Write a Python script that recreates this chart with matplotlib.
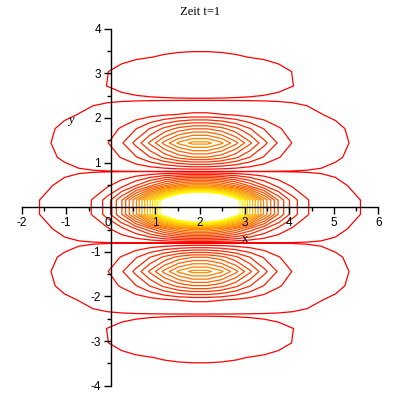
import numpy as np
import matplotlib
matplotlib.use("Agg")
import matplotlib.pyplot as plt

# --- values ---
title = "Zeit t=1"
x_range = [-2, 6]
y_range = [-4, 4]
grid_points = 26            # coarse sampling grid
x_center = 2.0              # centre of packet in x
x_width = 1.76              # Gaussian width parameter in x (near y=0)
x_width_growth = 0.0040     # widening of the packet for large |y|
y_nodes = [0.8, 2.4]        # zero lines in y (both signs)
y_damp2 = 0.8334            # Gaussian damping in y
y_damp4 = 0.02346           # quartic damping in y
peak = 31.8                 # peak value at (2, 0)
levels = [0.0216] + list(range(1, 19))
x_ticks_major = [-2, -1, 0, 1, 2, 3, 4, 5, 6]
y_ticks_major = [-4, -3, -2, -1, 1, 2, 3, 4]
x_ticks_minor = [-1.5, -0.5, 0.5, 1.5, 2.5, 3.5, 4.5, 5.5]
y_ticks_minor = [-3.5, -2.5, -1.5, -0.5, 0.5, 1.5, 2.5, 3.5]

xs = np.linspace(x_range[0], x_range[1], grid_points)
ys = np.linspace(y_range[0], y_range[1], grid_points)
X, Y = np.meshgrid(xs, ys)
P = ((1 - Y**2 / y_nodes[0] ** 2) * (1 - Y**2 / y_nodes[1] ** 2)) ** 2
W = x_width * (1 + x_width_growth * Y**4)
Z = peak * np.exp(-(X - x_center) ** 2 / W) * P * np.exp(-y_damp2 * Y**2 - y_damp4 * Y**4)

n = len(levels)
colors = [(1.0, i / (n - 1), 0.0) for i in range(n)]

fig = plt.figure(figsize=(4, 4), dpi=100)
ax = fig.add_axes([0.054, 0.0357, 0.892, 0.8925])
ax.contour(X, Y, Z, levels=levels, colors=colors, linewidths=0.9, zorder=1)

ax.set_xticks(x_ticks_major)
ax.set_xticklabels([str(v) for v in x_ticks_major])
ax.set_yticks(y_ticks_major)
ax.set_yticklabels([str(v) for v in y_ticks_major])
ax.set_xticks(x_ticks_minor, minor=True)
ax.set_yticks(y_ticks_minor, minor=True)
ax.set_xlim(*x_range)
ax.set_ylim(*y_range)
ax.set_axisbelow(False)
ax.xaxis.set_zorder(5)
ax.yaxis.set_zorder(5)

for s in ["top", "right"]:
    ax.spines[s].set_visible(False)
ax.spines["left"].set_position(("data", 0))
ax.spines["bottom"].set_position(("data", 0))
ax.spines["left"].set_linewidth(1.0)
ax.spines["bottom"].set_linewidth(1.0)
ax.spines["left"].set_zorder(5)
ax.spines["bottom"].set_zorder(5)

ax.tick_params(axis="both", which="major", direction="out", length=5, width=1,
               labelsize=8.5, pad=2)
ax.tick_params(axis="both", which="minor", direction="out", length=3, width=1)
for lab in ax.get_xticklabels() + ax.get_yticklabels():
    lab.set_family("Liberation Sans")
for lab in ax.get_xticklabels():
    if lab.get_text() == "0":
        lab.set_horizontalalignment("right")

ax.text(3.0, -0.72, "x", family="Liberation Serif", fontsize=9, ha="center", va="center",
        zorder=6)
ax.text(-0.9, 1.95, "y", family="Liberation Serif", style="italic", fontsize=9,
        ha="center", va="center", zorder=6)
fig.text(0.5, 0.97, title, family="Liberation Serif", fontsize=9, ha="center", va="center")

fig.savefig("out.png", dpi=100)
